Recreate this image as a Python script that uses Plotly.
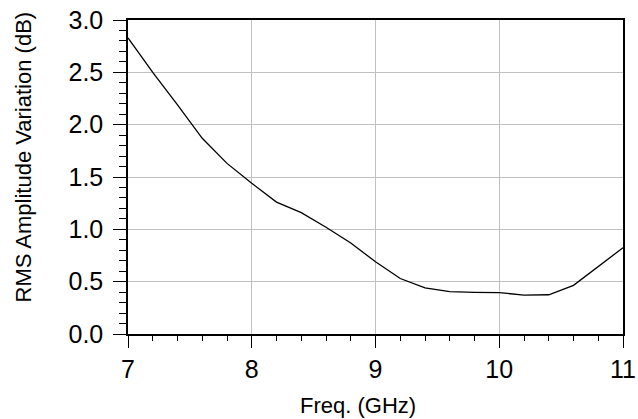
import plotly.graph_objects as go

freq_ghz = [7.0, 7.2, 7.4, 7.6, 7.8, 8.0, 8.2, 8.4, 8.6, 8.8, 9.0,
            9.2, 9.4, 9.6, 9.8, 10.0, 10.2, 10.4, 10.6, 10.8, 11.0]
rms_db = [2.83, 2.50, 2.19, 1.87, 1.63, 1.44, 1.26, 1.16, 1.02, 0.87, 0.69,
          0.53, 0.44, 0.405, 0.398, 0.395, 0.372, 0.375, 0.465, 0.645, 0.824]

x_ticks = [7, 8, 9, 10, 11]
y_ticks = [0.0, 0.5, 1.0, 1.5, 2.0, 2.5, 3.0]
x_title = "Freq. (GHz)"
y_title = "RMS Amplitude Variation (dB)"

fig = go.Figure()
fig.add_trace(go.Scatter(x=freq_ghz, y=rms_db, mode="lines",
                         line=dict(color="black", width=1.3), showlegend=False))

font_family = "Liberation Sans, Arial, sans-serif"
fig.update_layout(
    width=638, height=419,
    margin=dict(l=128, r=15, t=20, b=85, autoexpand=False),
    paper_bgcolor="white", plot_bgcolor="white",
    font=dict(family=font_family, color="black"),
    annotations=[
        dict(text=x_title, xref="paper", yref="paper", x=0.465, y=-0.229,
             xanchor="center", yanchor="middle", showarrow=False,
             font=dict(size=22)),
        dict(text=y_title, xref="paper", yref="paper", x=-0.211, y=0.564,
             xanchor="center", yanchor="middle", showarrow=False,
             textangle=-90, font=dict(size=22)),
    ],
)
fig.update_xaxes(
    range=[7, 11], tickvals=x_ticks, ticktext=[str(v) for v in x_ticks],
    showline=True, linecolor="black", linewidth=1.5, mirror=True,
    showgrid=True, gridcolor="#c0c0c0", gridwidth=1,
    ticks="outside", ticklen=12, tickwidth=1.2, tickcolor="black",
    minor=dict(dtick=0.2, ticks="outside", ticklen=5, tickwidth=1.2, tickcolor="black", showgrid=False),
    tickfont=dict(size=25), zeroline=False, automargin=False,
)
fig.update_yaxes(
    range=[0, 3], tickvals=y_ticks, ticktext=[f"{v:.1f}" for v in y_ticks],
    showline=True, linecolor="black", linewidth=1.5, mirror=True,
    showgrid=True, gridcolor="#c0c0c0", gridwidth=1,
    ticks="outside", ticklen=13, tickwidth=1.2, tickcolor="black",
    minor=dict(dtick=0.1, ticks="outside", ticklen=7, tickwidth=1.2, tickcolor="black", showgrid=False),
    tickfont=dict(size=25), zeroline=False, automargin=False, ticklabelstandoff=5,
)

fig.write_html("out.html")
